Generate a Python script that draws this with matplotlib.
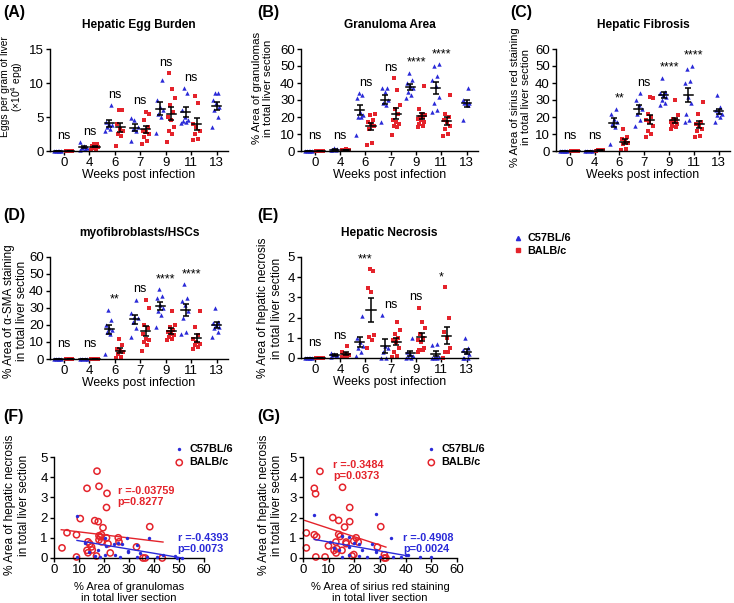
import numpy as np
import matplotlib
matplotlib.use('Agg')
import matplotlib.pyplot as plt
from matplotlib.lines import Line2D

plt.rcParams['font.family'] = ['Liberation Sans', 'DejaVu Sans']
plt.rcParams['axes.linewidth'] = 1.0

BLUE = '#2a2ad8'
RED = '#e4232b'

weeks = ['0', '4', '6', '7', '9', '11', '13']

# ---------------- Panel A: hepatic egg burden (x10^4 epg)
egg_b6 = [[0, 0, 0, 0, 0], [0.2, 0.5, 0.8, 1.3, 0.3, 0.4], [6.8, 4.0, 3.8, 3.5, 3.2, 3.0, 4.2],
          [4.9, 4.5, 3.5, 3.2, 3.0, 1.5], [10.5, 7.5, 6.5, 6.0, 5.5, 5.0, 2.7],
          [9.2, 8.6, 6.0, 5.0, 4.5, 4.3, 4.1, 4.4], [8.6, 8.5, 7.5, 7.0, 6.5, 6.0, 5.0, 3.6]]
egg_balb = [[0, 0, 0, 0, 0], [0.3, 0.6, 0.8, 1.0, 1.1, 0.5, 0.2, 0.7], [6.1, 6.0, 4.0, 3.0, 2.5, 2.2, 0.7, 3.3],
            [5.8, 5.5, 4.5, 3.5, 3.0, 2.8, 2.5, 2.0, 1.5, 1.1],
            [11.4, 9.1, 7.8, 6.8, 5.7, 5.0, 4.5, 3.5, 3.0, 2.5, 1.3],
            [8.1, 7.0, 4.0, 3.5, 3.0, 2.5, 1.8, 1.6], []]
egg_sig = ['ns', 'ns', 'ns', 'ns', 'ns', 'ns', '']

# ---------------- Panel B: granuloma area (%)
gran_b6 = [[0, 0, 0, 0, 0], [1, 0.5, 0.8, 1.5, 0.3], [34, 33, 31, 23, 21, 20, 20, 9.5],
           [37, 37, 35, 30, 28, 27, 17], [46, 42, 40, 38, 37, 35, 33, 31],
           [51, 50, 44, 42, 38, 32, 28, 24, 23], [37, 30, 29, 28, 28, 27, 18]]
gran_balb = [[0, 0, 0, 0, 0], [0.5, 0.8, 1.0, 0.3, 0.6], [22, 21, 18, 17, 16, 15, 13, 5, 3.5],
             [43, 36, 27, 25, 22, 18, 17, 16, 15, 14, 9.5],
             [38, 25, 22, 21, 20, 20, 19, 18, 17, 16, 15, 14],
             [33, 22, 20, 18, 17, 15, 13, 10, 9], []]
gran_sig = ['ns', 'ns', 'ns', 'ns', '****', '****', '']

# ---------------- Panel C: sirius red (%)
fib_b6 = [[0, 0, 0, 0, 0], [0, 0, 0, 0], [25, 22, 19, 17, 16, 14, 4], [34, 30, 27, 25, 22, 18, 15],
          [43, 35, 34, 33, 32, 30, 28, 27], [50, 48, 41, 40, 32, 28, 22, 18, 17],
          [33, 26, 24, 23, 22, 21, 20, 17]]
fib_balb = [[0, 0, 0, 0, 0], [0.3, 0.5, 0.2, 0.4], [13, 8, 7, 6, 5, 4, 1, 0.5],
            [32, 31, 22, 20, 18, 17, 15, 12, 10, 8], [30, 21, 19, 18, 17, 17, 16, 15, 14, 13],
            [29, 22, 17, 16, 15, 13, 12, 9, 8], []]
fib_sig = ['ns', 'ns', '**', 'ns', '****', '****', '']

# ---------------- Panel D: alpha-SMA (%)
sma_b6 = [[0, 0, 0, 0, 0], [0, 0, 0, 0], [29, 23, 20, 18, 17, 16, 15, 3], [35, 27, 25, 24, 22, 18, 13],
          [41, 37, 36, 32, 30, 28, 26, 19], [44, 36, 34, 32, 28, 24, 16, 15],
          [30, 22, 21, 20, 19, 18, 16, 13]]
sma_balb = [[0, 0, 0, 0, 0], [0, 0, 0, 0], [12, 8, 6, 5, 4, 3, 1, 0.5],
            [35, 30, 20, 18, 15, 12, 11, 10, 8, 5], [28, 20, 19, 17, 16, 15, 14, 13, 12, 11],
            [28, 19, 14, 12, 10, 9, 8, 7, 6], []]
sma_sig = ['ns', 'ns', '**', 'ns', '****', '****', '']

# ---------------- Panel E: hepatic necrosis (%)
nec_b6 = [[0, 0, 0, 0, 0], [0.25, 0.2, 0.15, 0.1, 0.05, 0.15], [2.1, 1.0, 0.8, 0.6, 0.5, 0.3, 0.1],
          [2.15, 0.6, 0.5, 0.3, 0, 0], [1.0, 0.3, 0.2, 0.1, 0.05, 0, 0],
          [0.7, 0.65, 0.1, 0.05, 0, 0, 0], [1.0, 0.5, 0.4, 0.3, 0.2, 0, 0, 0]]
nec_balb = [[0, 0, 0, 0, 0], [0.6, 0.3, 0.2, 0.15, 0.1, 0.05, 0.1],
            [4.4, 4.3, 3.45, 3.25, 1.15, 1.05, 0.9, 0.5],
            [1.8, 1.4, 1.2, 1.0, 0.9, 0.8, 0.5, 0.3, 0.1, 0.05],
            [2.5, 1.8, 1.5, 1.2, 1.0, 0.9, 0.8, 0.5, 0.4, 0.3, 0.4],
            [3.5, 2.0, 1.3, 1.0, 0.5, 0.3, 0.0, 0.3], []]
nec_sig = ['ns', 'ns', '***', 'ns', 'ns', '*', '']

# ---------------- Panel F: necrosis vs granuloma area
f_b6_x = [9.2, 20.3, 29.3, 38, 25.6, 23.9, 12.3, 33, 20.7, 17.6, 29.6, 29.6, 34.3, 20.4,
          24.3, 43.6, 48.3, 18.3, 26.3, 33, 37, 41, 49, 51, 9, 16.5, 14, 27]
f_b6_y = [2.1, 1.0, 1.0, 1.0, 0.75, 0.7, 0.75, 0.65, 0.6, 0.4, 0.35, 0.3, 0.25, 0.15,
          0.15, 0.15, 0.1, 0.05, 0.05, 0.05, 0.05, 0.05, 0, 0, 0.05, 0.08, 0.3, 0.7]
f_balb_x = [17.2, 13.2, 18, 21.2, 21, 10.5, 16.3, 17.7, 19.6, 38.3, 9, 5.2, 3.2, 18, 18.5,
            19, 21, 25.7, 26, 19, 21.6, 13.6, 14.3, 15, 15.3, 13.2, 13.6, 17, 22.5, 33,
            9, 35.6, 36.5, 43.3, 18]
f_balb_y = [4.3, 3.45, 3.55, 3.2, 2.5, 1.95, 1.85, 1.8, 1.5, 1.55, 1.15, 1.25, 0.5, 1.1, 1.05,
            1.15, 1.0, 1.0, 0.8, 0.8, 0.7, 0.8, 0.7, 0.55, 0.4, 0.38, 0.26, 0.1, 0.25, 0.55,
            0.05, 0, 0, 0, 0.9]
f_b6_fit = ([9.2, 51.3], [0.87, 0.0])
f_balb_fit = ([2.9, 43.6], [1.4, 0.79])
f_b6_stat = 'r =-0.4393\np=0.0073'
f_balb_stat = 'r =-0.03759\np=0.8277'

# ---------------- Panel G: necrosis vs sirius red
g_b6_x = [4.4, 28.6, 34.3, 15.2, 17.8, 27, 10.5, 17.8, 19.8, 21.8, 28.4, 28.4, 23.1, 13.9,
          17.8, 40.2, 41, 45.5, 50, 35, 38, 30, 22, 25, 12, 15]
g_b6_y = [2.15, 2.2, 1.0, 1.1, 1.04, 0.71, 0.79, 0.54, 0.76, 0.68, 0.4, 0.3, 0.4, 0.4,
          0.13, 0.13, 0.16, 0.05, 0.05, 0.05, 0.05, 0.05, 0.1, 0.05, 0.5, 0.05]
g_balb_x = [6.6, 4.4, 15.4, 4.9, 18.2, 11.6, 13.9, 18.2, 16.2, 30.3, 1.3, 4.4, 5.3, 13.9,
            14.5, 20.7, 19.8, 21.5, 16.8, 16.8, 12.8, 9.9, 1.3, 13.2, 12.1, 15.2, 12.9,
            19.8, 29, 31.7, 5, 8.6, 31.7, 32.3, 19.1]
g_balb_y = [4.29, 3.45, 3.5, 3.18, 2.5, 2.0, 1.86, 1.8, 1.53, 1.55, 1.24, 1.15, 1.05, 1.17,
            1.07, 1.0, 0.84, 0.79, 0.79, 0.71, 0.79, 0.6, 0.5, 0.46, 0.38, 0.38, 0.25,
            0.17, 0.54, 0.16, 0.05, 0.05, 0, 0, 0.1]
g_b6_fit = ([4.4, 41], [0.92, 0.1])
g_balb_fit = ([0.7, 32.3], [1.86, 0.54])
g_b6_stat = 'r =-0.4908\np=0.0024'
g_balb_stat = 'r =-0.3484\np=0.0373'

W, H = 734, 603
fig = plt.figure(figsize=(W / 100, H / 100), dpi=100)

TICK_FS = 9.5
LAB_FS = 8.8


def add_ax(x0, x1, ytop, ybot):
    return fig.add_axes([x0 / W, 1 - ybot / H, (x1 - x0) / W, (ybot - ytop) / H])


def ylab(text, xc, yc, fs, ls=1.2):
    fig.text(xc / W, 1 - yc / H, text, rotation=90, ha='center', va='center',
             fontsize=fs, linespacing=ls, multialignment='center')


def style(ax):
    for s in ('top', 'right'):
        ax.spines[s].set_visible(False)
    ax.tick_params(direction='out', length=3, width=1, labelsize=TICK_FS, pad=1.5)


def spread(n):
    idx = np.arange(n)
    return (((idx * 0.618) % 1.0) - 0.5) * 0.32


def cat_panel(ax, b6, balb, sig, ymax, ystep, title):
    style(ax)
    for i in range(len(weeks)):
        groups = [(b6[i], -0.22 if balb[i] else 0.0, '^', BLUE, 10),
                  (balb[i], 0.22, 's', RED, 8)]
        for vals, off, mk, col, sz in groups:
            if not vals:
                continue
            v = np.asarray(vals, float)
            order = np.argsort(v)
            xs = np.empty(len(v))
            xs[order] = spread(len(v))
            ax.scatter(i + off + xs, v, marker=mk, s=sz, color=col, linewidths=0,
                       zorder=2, clip_on=False)
            m = v.mean()
            se = v.std(ddof=1) / np.sqrt(len(v))
            ax.plot([i + off - 0.18, i + off + 0.18], [m, m], color='k', lw=1.1, zorder=3)
            ax.errorbar(i + off, m, yerr=se, color='k', lw=1.1, capsize=2.5,
                        capthick=1.1, zorder=3)
        if sig[i]:
            top = max(max(b6[i] or [0]), max(balb[i] or [0]))
            y = max(top + 0.04 * ymax, 0.09 * ymax)
            ax.text(i, y, sig[i], ha='center', va='bottom', fontsize=9)
    ax.set_xlim(-0.55, 6.45)
    ax.set_xticks(range(len(weeks)))
    ax.set_xticklabels(weeks)
    ax.set_ylim(0, ymax)
    ax.set_yticks(np.arange(0, ymax + ystep / 2, ystep))
    ax.set_xlabel('Weeks post infection', fontsize=LAB_FS, labelpad=0)
    ax.set_title(title, fontsize=8.6, fontweight='bold', pad=15)


axA = add_ax(50, 228, 49, 151)
cat_panel(axA, egg_b6, egg_balb, egg_sig, 15, 5, 'Hepatic Egg Burden')
ylab('Eggs per gram of liver\n(×10$^{4}$ epg)', 12.5, 87, 7.4, 1.0)
axB = add_ax(301, 478, 49, 151)
cat_panel(axB, gran_b6, gran_balb, gran_sig, 60, 10, 'Granuloma Area')
ylab('% Area of granulomas\nin total liver section', 262.5, 88, 8.2, 1.05)
axC = add_ax(556, 730, 49, 151)
cat_panel(axC, fib_b6, fib_balb, fib_sig, 60, 10, 'Hepatic Fibrosis')
ylab('% Area of sirius red staining\nin total liver section', 520.5, 97, 8.1, 1.2)
axD = add_ax(50, 228, 257, 359)
cat_panel(axD, sma_b6, sma_balb, sma_sig, 60, 10, 'myofibroblasts/HSCs')
ylab('% Area of α-SMA staining\nin total liver section', 15.5, 311, 8.5, 1.1)
axE = add_ax(301, 478, 257, 358)
cat_panel(axE, nec_b6, nec_balb, nec_sig, 5, 1, 'Hepatic Necrosis')
ylab('% Area of hepatic necrosis\nin total liver section', 270, 308, 8.6, 1.2)

fig.legend(handles=[Line2D([], [], marker='^', color=BLUE, ls='', ms=3),
                    Line2D([], [], marker='s', color=RED, ls='', ms=2.6)],
           labels=['C57BL/6', 'BALB/c'], loc='upper left',
           bbox_to_anchor=(508 / W, 1 - 229 / H), frameon=False,
           prop={'weight': 'bold', 'size': 7.8}, handlelength=1.0,
           handletextpad=0.4, labelspacing=0.25, borderaxespad=0)


def scat_panel(ax, bx, by, rx, ry, bfit, rfit, bstat, rstat, bpos, rpos, xlabel):
    style(ax)
    ax.scatter(bx, by, s=6, color=BLUE, linewidths=0, zorder=3, clip_on=False,
               label='C57BL/6')
    ax.scatter(rx, ry, s=20, facecolors='none', edgecolors=RED, linewidths=1.1,
               zorder=2, clip_on=False, label='BALB/c')
    ax.plot(rfit[0], rfit[1], color=RED, lw=1.0, zorder=2)
    ax.plot(bfit[0], bfit[1], color=BLUE, lw=1.0, zorder=3)
    ax.text(*rpos, rstat, color=RED, fontsize=7.8, fontweight='bold', va='top',
            linespacing=1.1)
    ax.text(*bpos, bstat, color=BLUE, fontsize=7.8, fontweight='bold', va='top',
            linespacing=1.1)
    ax.set_xlim(0, 60)
    ax.set_ylim(0, 5)
    ax.set_xticks(range(0, 61, 10))
    ax.set_yticks(range(0, 6))
    ax.set_xlabel(xlabel, fontsize=8, labelpad=4, linespacing=1.15)
    ax.legend(loc='upper left', bbox_to_anchor=(0.77, 1.17), frameon=False,
              prop={'weight': 'bold', 'size': 7.8}, handlelength=1.0,
              handletextpad=0.4, labelspacing=0.3, borderaxespad=0)


axF = add_ax(54, 204, 457, 558)
scat_panel(axF, f_b6_x, f_b6_y, f_balb_x, f_balb_y, f_b6_fit, f_balb_fit,
           f_b6_stat, f_balb_stat, (49.5, 1.25), (25.5, 3.55),
           '% Area of granulomas\nin total liver section')
ylab('% Area of hepatic necrosis\nin total liver section', 17, 505, 8.6, 1.2)
axG = add_ax(303, 457, 457, 558)
scat_panel(axG, g_b6_x, g_b6_y, g_balb_x, g_balb_y, g_b6_fit, g_balb_fit,
           g_b6_stat, g_balb_stat, (39, 1.25), (11.7, 4.85),
           '% Area of sirius red staining\nin total liver section')
ylab('% Area of hepatic necrosis\nin total liver section', 270.5, 505, 8.6, 1.2)

for lab, x, y in [('(A)', 3, 13), ('(B)', 257, 13), ('(C)', 510, 13),
                  ('(D)', 3, 216), ('(E)', 257, 216), ('(F)', 3, 416), ('(G)', 257, 416)]:
    fig.text(x / W, 1 - y / H, lab, fontsize=11.5, fontweight='bold', va='center', ha='left')

fig.savefig('out.png', dpi=100)
